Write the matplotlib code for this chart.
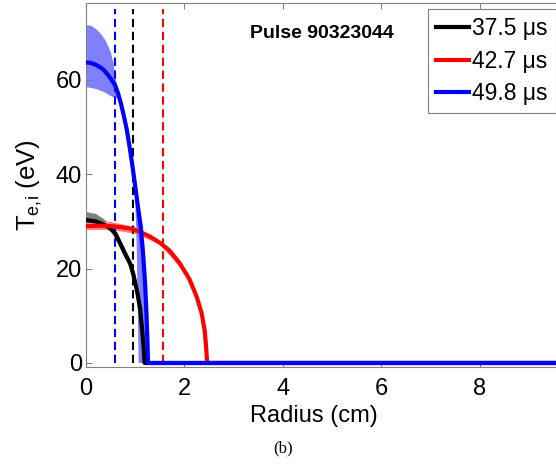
import numpy as np
import matplotlib
matplotlib.use("Agg")
import matplotlib.pyplot as plt

plt.rcParams['font.family'] = ['Liberation Sans', 'DejaVu Sans']
plt.rcParams['mathtext.fontset'] = 'custom'
plt.rcParams['mathtext.rm'] = 'Liberation Sans'
plt.rcParams['mathtext.it'] = 'Liberation Sans'

# 37.5 us profile (black)
r_k = [0, 0.2, 0.35, 0.49, 0.6, 0.7, 0.8, 0.9, 0.96, 1.0, 1.05, 1.1, 1.14, 1.17, 1.19, 10]
T_k = [30.3, 30.0, 29.4, 28.6, 27.4, 25.2, 23.0, 21.0, 18.8, 17.0, 14.5, 11.5, 7.0, 3.5, 0, 0]
r_k_up = [0, 0.2, 0.35, 0.5, 0.7, 0.9, 1.0, 1.1, 1.16, 1.21]
T_k_up = [32.0, 31.6, 30.6, 29.3, 26.2, 22.0, 19.0, 13.0, 6.0, 0]
r_k_lo = [0, 0.2, 0.35, 0.5, 0.7, 0.9, 1.0, 1.06, 1.1, 1.13]
T_k_lo = [29.2, 29.0, 28.5, 27.9, 24.5, 20.0, 16.0, 11.0, 6.0, 0]

# 42.7 us profile (red)
r_r = [0, 0.3, 0.5, 0.7, 0.9, 1.1, 1.3, 1.5, 1.7, 1.9, 2.1, 2.25, 2.35, 2.41, 2.44, 2.46, 10]
T_r = [29.0, 29.1, 29.0, 28.8, 28.5, 27.8, 26.8, 25.5, 23.8, 21.2, 17.8, 14.0, 10.5, 7.0, 3.5, 0, 0]
r_r_up = [0, 0.5, 1.0, 1.5, 2.0, 2.3, 2.46]
T_r_up = [29.8, 29.9, 28.8, 25.9, 19.8, 12.5, 0]
r_r_lo = [0, 0.5, 1.0, 1.5, 2.0, 2.3, 2.45]
T_r_lo = [28.2, 28.2, 27.4, 25.1, 19.2, 12.1, 0]

# 49.8 us profile (blue)
r_b = [0, 0.1, 0.2, 0.3, 0.37, 0.45, 0.52, 0.59, 0.65, 0.71, 0.77, 0.83, 0.89, 0.94,
       1.0, 1.05, 1.11, 1.16, 1.2, 1.23, 1.25, 1.26, 10]
T_b = [63.7, 63.6, 63.2, 62.6, 62.0, 61.0, 60.0, 58.9, 57.2, 55.0, 52.3, 49.4, 45.5, 42.0,
       37.5, 33.5, 28.8, 23.0, 17.0, 10.0, 4.0, 0, 0]
r_b_up = [0, 0.1, 0.2, 0.3, 0.4, 0.5, 0.56, 0.6, 0.65, 0.71, 0.8, 0.9, 1.0, 1.1, 1.16, 1.22, 1.26, 1.28]
T_b_up = [71.6, 71.5, 70.8, 69.8, 68.3, 66.0, 63.5, 60.5, 58.0, 55.8, 51.8, 46.0, 39.5, 32.5, 29.0, 20.0, 8.0, 0]
r_b_lo = [0, 0.2, 0.37, 0.5, 0.6, 0.65, 0.71, 0.8, 0.9, 0.95, 1.0, 1.03, 1.05, 1.07]
T_b_lo = [58.5, 58.1, 57.4, 56.6, 56.2, 56.4, 54.3, 50.0, 44.0, 40.0, 35.0, 25.0, 12.0, 0]

labels = ['37.5 \u03bcs', '42.7 \u03bcs', '49.8 \u03bcs']
cut_r = [0.96, 1.57, 0.59]
colors = ['black', 'red', 'blue']
shades = ['#808080', '#ff8080', '#8080ff']

fig = plt.figure(figsize=(5.56, 4.72), dpi=100)
ax = fig.add_axes([86 / 556, 105 / 472, 476 / 556, 364 / 472])

profiles = [
    (r_k, T_k, r_k_up, T_k_up, r_k_lo, T_k_lo),
    (r_r, T_r, r_r_up, T_r_up, r_r_lo, T_r_lo),
    (r_b, T_b, r_b_up, T_b_up, r_b_lo, T_b_lo),
]

for (r, T, ru, Tu, rl, Tl), c, s in zip(profiles, colors, shades):
    ax.fill(np.concatenate([ru, rl[::-1]]), np.concatenate([Tu, Tl[::-1]]),
            color=s, lw=0, zorder=1)

lines = []
for (r, T, ru, Tu, rl, Tl), c, lab in zip(profiles, colors, labels):
    ln, = ax.plot(r, T, color=c, lw=3, label=lab, zorder=3)
    lines.append(ln)

for x, c in zip(cut_r, colors):
    ax.plot([x, x], [0, 75], color=c, lw=1.5, dashes=(4, 2.2), zorder=2)

ax.set_xlim(0, 9.67)
ax.set_ylim(-0.85, 76.3)
ax.set_xticks([0, 2, 4, 6, 8])
ax.set_yticks([0, 20, 40, 60])

for sp in ax.spines.values():
    sp.set_color('#808080')
    sp.set_linewidth(0.8)
ax.tick_params(direction='in', length=4, width=0.8, color='#808080',
               labelsize=17, top=True, right=True)
ax.tick_params(axis='x', pad=8)
ax.tick_params(axis='y', pad=3)

ax.set_xlabel('Radius (cm)', fontsize=17)
ax.xaxis.set_label_coords((314 - 86) / 476, -38 / 364)
ax.set_ylabel(r'T$_{\mathrm{e{,}i}}$ (eV)', fontsize=18.5)
ax.yaxis.set_label_coords(-42 / 476, 0.5)

leg = fig.legend(handles=lines, loc='upper right', bbox_to_anchor=(1.0, 463 / 472),
                 fontsize=16.5, handlelength=1.45, handletextpad=0.15,
                 labelspacing=0.42, borderpad=0.35, borderaxespad=0,
                 fancybox=False, framealpha=1)
leg.get_frame().set_edgecolor('#808080')
leg.get_frame().set_linewidth(0.8)

fig.text(250 / 556, 1 - 33 / 472, 'Pulse 90323044', fontsize=14,
         fontweight='bold', ha='left', va='center')
fig.text(283 / 556, 1 - 448 / 472, '(b)', fontsize=12,
         family='Liberation Serif', ha='center', va='center')

fig.savefig('out.png', dpi=100)
